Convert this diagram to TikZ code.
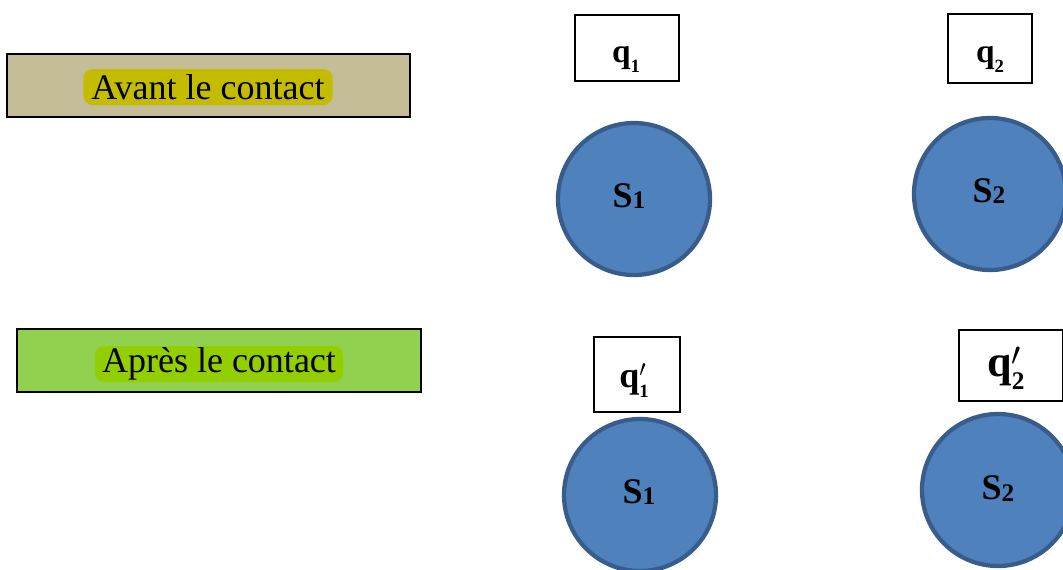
\documentclass[tikz,border=0pt]{standalone}
\usepackage{fontspec}
\setmainfont{Liberation Serif}
\definecolor{tanfill}{HTML}{C4BD97}
\definecolor{tanhl}{HTML}{C4BC00}
\definecolor{greenfill}{HTML}{92D050}
\definecolor{greenhl}{HTML}{92CE00}
\definecolor{ballfill}{HTML}{4F81BD}
\definecolor{balldraw}{HTML}{385D8A}
\tikzset{
  phasebox/.style={draw=black, line width=1.1pt, minimum width=302pt, minimum height=47.25pt, inner sep=0pt},
  hl/.style={rounded corners=7pt, minimum width=187pt, minimum height=27pt, inner sep=0pt, font=\fontsize{27}{30}\selectfont},
  qbox/.style={draw=black, line width=0.9pt, fill=white, inner sep=0pt},
  qlab/.style={inner sep=0pt, anchor=base},
  ball/.style={circle, draw=balldraw, fill=ballfill, line width=3.2pt, minimum size=114pt, inner sep=0pt},
  balllab/.style={inner sep=0pt, font=\bfseries\fontsize{27}{30}\selectfont}
}
\newcommand{\sub}[1]{\raisebox{-0.05em}{\fontsize{19}{21}\selectfont #1}}
\newcommand{\qsub}[2]{\raisebox{-0.3em}{\fontsize{#1}{#1}\selectfont #2}}
\newcommand{\qprime}{\rlap{\raisebox{-0.04em}{$^{\prime}$}}}
\begin{document}
\begin{tikzpicture}[x=0.75pt,y=-0.75pt]
\useasboundingbox (0,0) rectangle (1063,569);
\clip (0,0) rectangle (1063,569);
% phase labels
\node[phasebox, fill=tanfill] (avantbox) at (208.5,85.5) {};
\node[hl, fill=tanhl] (avant) at (208,87) {Avant le contact};
\node[phasebox, fill=greenfill, minimum width=303pt] (apresbox) at (219,360.5) {};
\node[hl, fill=greenhl, minimum width=186pt] (apres) at (219,364) {Après le contact};
% charge boxes
\node[qbox, minimum width=78pt, minimum height=49.5pt] (q1) at (627,48) {};
\node[qlab, font=\bfseries\fontsize{25}{28}\selectfont] (q1t) at (626,62) {q\qsub{14}{1}};
\node[qbox, minimum width=63pt, minimum height=51.75pt] (q2) at (990,48.5) {};
\node[qlab, font=\bfseries\fontsize{25}{28}\selectfont] (q2t) at (990,62) {q\qsub{14}{2}};
\node[qbox, minimum width=64.5pt, minimum height=56.25pt] (q1p) at (637,374.5) {};
\node[qlab, font=\bfseries\fontsize{27}{30}\selectfont] (q1pt) at (634,387) {q\qprime\qsub{14}{1}};
\node[qbox, minimum width=78pt, minimum height=53.25pt] (q2p) at (1011,365.5) {};
\node[qlab, font=\bfseries\fontsize{33}{36}\selectfont] (q2pt) at (1006,376) {q\qprime\qsub{19}{2}};
% spheres
\node[ball] (s1) at (634,199) {};
\node[balllab] (s1t) at ([xshift=-3.75pt,yshift=2.25pt]s1.center) {S\sub{1}};
\node[ball] (s2) at (990,194) {};
\node[balllab] (s2t) at ([xshift=-0.75pt,yshift=2.25pt]s2.center) {S\sub{2}};
\node[ball] (s1p) at (640,495) {};
\node[balllab] (s1pt) at ([xshift=-0.75pt,yshift=2.25pt]s1p.center) {S\sub{1}};
\node[ball] (s2p) at (998,490) {};
\node[balllab] (s2pt) at ([xshift=0pt,yshift=1pt]s2p.center) {S\sub{2}};
\end{tikzpicture}
\end{document}
